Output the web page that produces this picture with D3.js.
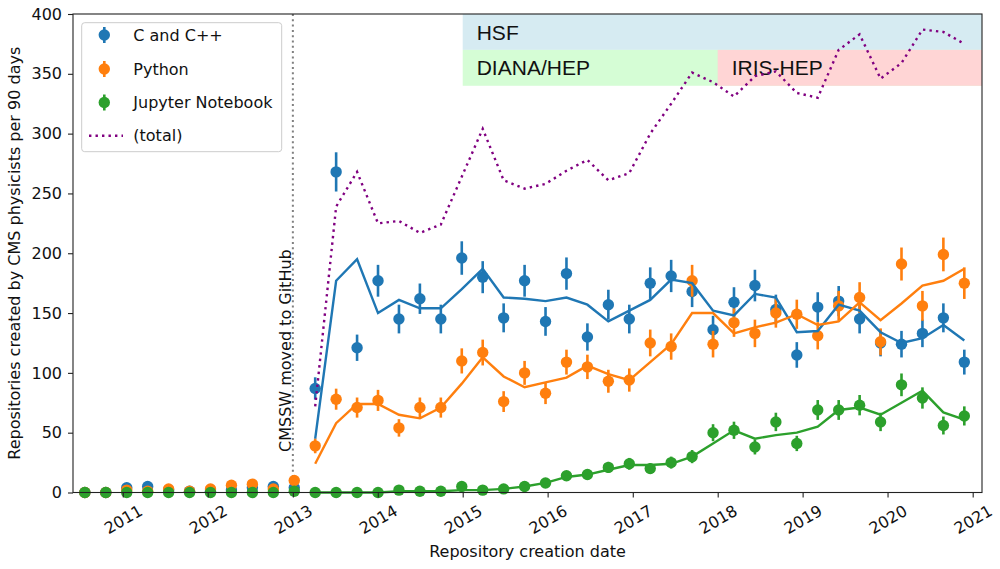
<!DOCTYPE html>
<html>
<head>
<meta charset="utf-8">
<script src="https://cdn.jsdelivr.net/npm/d3@7"></script>
<style>
	body { margin: 0; background: #fff; }
	svg { font-family: "DejaVu Sans", sans-serif; }
</style>
</head>
<body>
<svg id="chart" width="1000" height="569"></svg>
<script>
// 90-day bins, centre dates
var dates = ["2010-07-22", "2010-10-20", "2011-01-18", "2011-04-18", "2011-07-17", "2011-10-15",
	"2012-01-13", "2012-04-12", "2012-07-11", "2012-10-09", "2013-01-07", "2013-04-07",
	"2013-07-06", "2013-10-04", "2014-01-02", "2014-04-02", "2014-07-01", "2014-09-29",
	"2014-12-28", "2015-03-28", "2015-06-26", "2015-09-24", "2015-12-23", "2016-03-22",
	"2016-06-20", "2016-09-18", "2016-12-17", "2017-03-17", "2017-06-15", "2017-09-13",
	"2017-12-12", "2018-03-12", "2018-06-10", "2018-09-08", "2018-12-07", "2019-03-07",
	"2019-06-05", "2019-09-03", "2019-12-02", "2020-03-01", "2020-05-30", "2020-08-28",
	"2020-11-26"];

var cppCounts = [0, 0, 4, 5, 2, 1, 1, 2, 4, 5, 4, 87, 268, 121, 177, 145, 162, 145, 196, 180, 146,
	177, 143, 183, 130, 157, 145, 175, 181, 168, 136, 159, 173, 153, 115, 155, 160, 145, 125, 124,
	133, 146, 109];
var cppErrors = [0, 0, 2, 2.2, 1.4, 1, 1, 1.4, 2, 2.2, 2, 9.3, 16.4, 11, 13.3, 12, 12.7, 12, 14,
	13.4, 12.1, 13.3, 12, 13.5, 11.4, 12.5, 12, 13.2, 13.5, 13, 11.7, 12.6, 13.2, 12.4, 10.7, 12.4,
	12.6, 12, 11.2, 11.1, 11.5, 12.1, 10.4];

var pythonCounts = [0, 0, 2, 1, 3, 1, 3, 6, 7, 3, 10, 39, 78, 71, 77, 54, 71, 71, 110, 117, 76,
	100, 83, 109, 105, 93, 94, 125, 122, 177, 124, 142, 133, 150, 149, 131, 156, 163, 126, 191,
	156, 199, 175];
var pythonErrors = [0, 0, 1.4, 1, 1.7, 1, 1.7, 2.4, 2.6, 1.7, 3.2, 6.2, 8.8, 8.4, 8.8, 7.3, 8.4,
	8.4, 10.5, 10.8, 8.7, 10, 9.1, 10.4, 10.2, 9.6, 9.7, 11.2, 11, 13.3, 11.1, 11.9, 11.5, 12.2,
	12.2, 11.4, 12.5, 12.8, 11.2, 13.8, 12.5, 14.1, 13.2];

var jupyterCounts = [0, 0, 0, 0, 0, 0, 0, 0, 0, 0, 1, 0, 0, 0, 0, 2, 1, 1, 5, 2, 3, 5, 8, 14, 15,
	21, 24, 20, 25, 30, 50, 52, 38, 59, 41, 69, 69, 73, 59, 90, 79, 56, 64];
var jupyterErrors = [0, 0, 0, 0, 0, 0, 0, 0, 0, 0, 1, 0, 0, 0, 0, 1.4, 1, 1, 2.2, 1.4, 1.7, 2.2,
	2.8, 3.7, 3.9, 4.6, 4.9, 4.5, 5, 5.5, 7.1, 7.2, 6.2, 7.7, 6.4, 8.3, 8.3, 8.5, 7.7, 9.5, 8.9,
	7.5, 8];

// smoothed curves start at the 2013-04 bin
var trendDates = dates.slice(11);
var cppTrend = [45, 177, 195, 150, 161, 154, 154, 170, 187, 163, 162, 160, 163, 157, 143, 152,
	161, 178, 175, 152, 148, 166, 163, 134, 135, 157, 152, 134, 125, 129, 140, 127];
var pythonTrend = [24, 58, 74, 74, 65, 62, 71, 91, 113, 97, 88, 92, 96, 106, 99, 94, 109, 124,
	150, 150, 133, 138, 142, 149, 140, 143, 159, 144, 158, 173, 177, 187];
var jupyterTrend = [0, 0, 0, 0, 1, 1, 1, 2, 2, 3, 5, 8, 13, 15, 19, 23, 23, 24, 30, 41, 52, 45,
	48, 50, 55, 69, 71, 65, 75, 85, 67, 61];
var totalTrend = [72, 239, 268, 225, 227, 217, 224, 264, 304, 261, 254, 258, 269, 278, 261, 267,
	300, 325, 351, 343, 331, 348, 352, 334, 330, 370, 383, 346, 359, 387, 385, 375];

var yearTicks = ["2011", "2012", "2013", "2014", "2015", "2016", "2017", "2018", "2019", "2020", "2021"];
var yTicks = [0, 50, 100, 150, 200, 250, 300, 350, 400];

var bandNames = ["HSF", "DIANA/HEP", "IRIS-HEP"];
var bandStarts = ["2015-01-01", "2015-01-01", "2018-01-01"];
var bandLows = [370, 340, 340];
var bandHighs = [400, 370, 370];
var bandColors = ["#d6ebf2", "#d5fdd5", "#ffd5d5"];

var seriesNames = ["C and C++", "Python", "Jupyter Notebook"];
var seriesColors = ["#1f77b4", "#ff7f0e", "#2ca02c"];

var parseDate = d3.utcParse("%Y-%m-%d");
var parseYear = d3.utcParse("%Y");

var plotLeft = 73, plotRight = 982, plotTop = 14, plotBottom = 492.5;

var svg = d3.select("#chart");

var x = d3.scaleUtc()
	.domain([parseDate("2010-06-01"), parseDate("2021-02-10")])
	.range([plotLeft, plotRight]);
var y = d3.scaleLinear()
	.domain([0, 400])
	.range([plotBottom, plotTop]);

var plot = svg.append("g");

// funding bands
bandNames.forEach(function (name, i) {
	var bx = x(parseDate(bandStarts[i]));
	plot.append("rect")
		.attr("x", bx)
		.attr("y", y(bandHighs[i]))
		.attr("width", plotRight - bx)
		.attr("height", y(bandLows[i]) - y(bandHighs[i]))
		.attr("fill", bandColors[i]);
	plot.append("text")
		.attr("x", bx + 14)
		.attr("y", y((bandLows[i] + bandHighs[i]) / 2))
		.attr("dy", "0.36em")
		.attr("font-family", "'Liberation Sans', Arial, sans-serif")
		.attr("font-size", 21)
		.attr("fill", "#111")
		.text(name);
});

var moveDate = parseDate("2013-01-01");
plot.append("line")
	.attr("x1", x(moveDate))
	.attr("x2", x(moveDate))
	.attr("y1", plotTop)
	.attr("y2", plotBottom)
	.attr("stroke", "gray")
	.attr("stroke-width", 2)
	.attr("stroke-dasharray", "2 3.3");
plot.append("text")
	.attr("transform", "translate(" + (x(moveDate) - 1.5) + "," + 452 + ") rotate(-90)")
	.attr("font-size", 16)
	.attr("fill", "#111")
	.text("CMSSW moved to GitHub");

function drawPoints(counts, errors, color) {
	var g = plot.append("g");
	g.selectAll("line")
		.data(counts)
		.enter()
		.append("line")
		.attr("x1", function (d, i) { return x(parseDate(dates[i])); })
		.attr("x2", function (d, i) { return x(parseDate(dates[i])); })
		.attr("y1", function (d, i) { return y(d - errors[i]); })
		.attr("y2", function (d, i) { return y(d + errors[i]); })
		.attr("stroke", color)
		.attr("stroke-width", 2.6);
	g.selectAll("circle")
		.data(counts)
		.enter()
		.append("circle")
		.attr("cx", function (d, i) { return x(parseDate(dates[i])); })
		.attr("cy", function (d) { return y(d); })
		.attr("r", 5.7)
		.attr("fill", color);
}

function drawTrend(values, color, dash) {
	var line = d3.line()
		.x(function (d, i) { return x(parseDate(trendDates[i])); })
		.y(function (d) { return y(d); });
	plot.append("path")
		.datum(values)
		.attr("d", line)
		.attr("fill", "none")
		.attr("stroke", color)
		.attr("stroke-width", 2.4)
		.attr("stroke-dasharray", dash || null);
}

drawPoints(cppCounts, cppErrors, seriesColors[0]);
drawPoints(pythonCounts, pythonErrors, seriesColors[1]);
drawPoints(jupyterCounts, jupyterErrors, seriesColors[2]);

drawTrend(cppTrend, seriesColors[0]);
drawTrend(pythonTrend, seriesColors[1]);
drawTrend(jupyterTrend, seriesColors[2]);
drawTrend(totalTrend, "purple", "2.4 4.1");

// axes
var xAxis = svg.append("g")
	.attr("transform", "translate(0," + plotBottom + ")")
	.call(d3.axisBottom(x)
		.tickValues(yearTicks.map(parseYear))
		.tickFormat(d3.utcFormat("%Y"))
		.tickSize(5)
		.tickSizeOuter(0));
xAxis.select(".domain").remove();
xAxis.attr("font-size", 16).attr("font-family", "DejaVu Sans");
xAxis.selectAll("line").attr("stroke", "#222").attr("stroke-width", 1.1);
xAxis.selectAll("text")
	.attr("y", 0)
	.attr("dy", "0.35em")
	.attr("fill", "#111")
	.attr("text-anchor", "middle")
	.attr("transform", "translate(0,27) rotate(-30)");

var yAxis = svg.append("g")
	.attr("transform", "translate(" + plotLeft + ",0)")
	.call(d3.axisLeft(y)
		.tickValues(yTicks)
		.tickSize(5)
		.tickPadding(6)
		.tickSizeOuter(0));
yAxis.select(".domain").remove();
yAxis.attr("font-size", 16).attr("font-family", "DejaVu Sans");
yAxis.selectAll("line").attr("stroke", "#222").attr("stroke-width", 1.1);
yAxis.selectAll("text").attr("fill", "#111");

svg.append("rect")
	.attr("x", plotLeft)
	.attr("y", plotTop)
	.attr("width", plotRight - plotLeft)
	.attr("height", plotBottom - plotTop)
	.attr("fill", "none")
	.attr("stroke", "#222")
	.attr("stroke-width", 1.1);

svg.append("text")
	.attr("x", (plotLeft + plotRight) / 2)
	.attr("y", 556.5)
	.attr("text-anchor", "middle")
	.attr("font-size", 16)
	.attr("fill", "#111")
	.text("Repository creation date");

svg.append("text")
	.attr("transform", "translate(19.5," + (plotTop + plotBottom) / 2 + ") rotate(-90)")
	.attr("text-anchor", "middle")
	.attr("font-size", 16)
	.attr("fill", "#111")
	.text("Repositories created by CMS physicists per 90 days");

// legend
var legend = svg.append("g");
legend.append("rect")
	.attr("x", 81.7)
	.attr("y", 22.7)
	.attr("width", 200)
	.attr("height", 129)
	.attr("rx", 3)
	.attr("fill", "white")
	.attr("fill-opacity", 0.8)
	.attr("stroke", "#ccc")
	.attr("stroke-width", 1);

var legendRows = [35, 69, 102.5, 135.7];
seriesNames.forEach(function (name, i) {
	legend.append("line")
		.attr("x1", 104.3).attr("x2", 104.3)
		.attr("y1", legendRows[i] - 8).attr("y2", legendRows[i] + 8)
		.attr("stroke", seriesColors[i])
		.attr("stroke-width", 2.6);
	legend.append("circle")
		.attr("cx", 104.3)
		.attr("cy", legendRows[i])
		.attr("r", 5.7)
		.attr("fill", seriesColors[i]);
	legend.append("text")
		.attr("x", 133.3)
		.attr("y", legendRows[i])
		.attr("dy", "0.35em")
		.attr("font-size", 16)
		.attr("fill", "#111")
		.text(name);
});
legend.append("line")
	.attr("x1", 89).attr("x2", 123)
	.attr("y1", legendRows[3]).attr("y2", legendRows[3])
	.attr("stroke", "purple")
	.attr("stroke-width", 2.4)
	.attr("stroke-dasharray", "2.4 4.1");
legend.append("text")
	.attr("x", 133.3)
	.attr("y", legendRows[3])
	.attr("dy", "0.35em")
	.attr("font-size", 16)
	.attr("fill", "#111")
	.text("(total)");
</script>
</body>
</html>
